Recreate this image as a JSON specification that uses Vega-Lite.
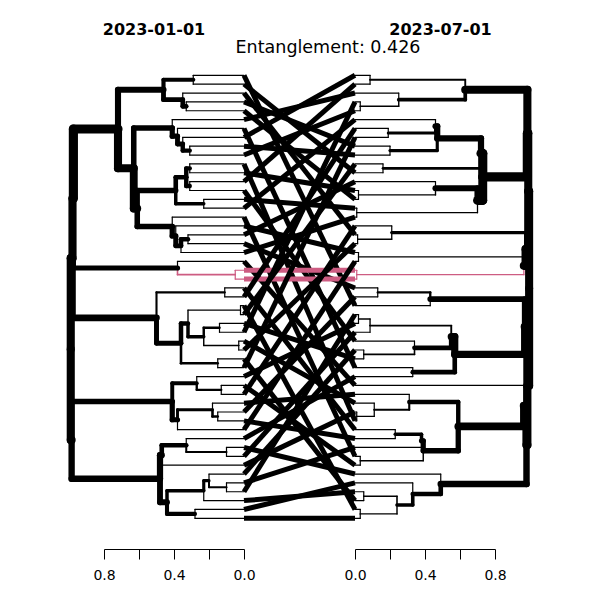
{
  "$schema": "https://vega.github.io/schema/vega-lite/v6.json",
  "background": "white",
  "padding": {"left": 66, "top": 22, "right": 5, "bottom": 5},
  "config": {"view": {"stroke": null}, "font": "DejaVu Sans"},
  "spacing": 0,
  "bounds": "flush",
  "resolve": {"scale": {"x": "independent", "y": "independent", "strokeWidth": "independent", "color": "independent"}},
  "datasets": {
    "left": [
      {"ph":0.29,"py":1.5,"ch":0,"cy":1,"g":"n"},{"ph":0.29,"py":1.5,"ch":0,"cy":2,"g":"n"},
      {"ph":0.33,"py":4.5,"ch":0,"cy":4,"g":"n"},{"ph":0.33,"py":4.5,"ch":0,"cy":5,"g":"n"},
      {"ph":0.35,"py":3.75,"ch":0,"cy":3,"g":"n"},{"ph":0.35,"py":3.75,"ch":0.33,"cy":4.5,"g":"n"},
      {"ph":0.46,"py":2.625,"ch":0.29,"cy":1.5,"g":"n"},{"ph":0.46,"py":2.625,"ch":0.35,"cy":3.75,"g":"n"},
      {"ph":0.31,"py":9.5,"ch":0,"cy":9,"g":"n"},{"ph":0.31,"py":9.5,"ch":0,"cy":10,"g":"n"},
      {"ph":0.35,"py":8.75,"ch":0,"cy":8,"g":"n"},{"ph":0.35,"py":8.75,"ch":0.31,"cy":9.5,"g":"n"},
      {"ph":0.38,"py":7.875,"ch":0,"cy":7,"g":"n"},{"ph":0.38,"py":7.875,"ch":0.35,"cy":8.75,"g":"n"},
      {"ph":0.41,"py":6.9375,"ch":0,"cy":6,"g":"n"},{"ph":0.41,"py":6.9375,"ch":0.38,"cy":7.875,"g":"n"},
      {"ph":0.31,"py":11.5,"ch":0,"cy":11,"g":"n"},{"ph":0.31,"py":11.5,"ch":0,"cy":12,"g":"n"},
      {"ph":0.31,"py":13.5,"ch":0,"cy":13,"g":"n"},{"ph":0.31,"py":13.5,"ch":0,"cy":14,"g":"n"},
      {"ph":0.33,"py":12.5,"ch":0.31,"cy":11.5,"g":"n"},{"ph":0.33,"py":12.5,"ch":0.31,"cy":13.5,"g":"n"},
      {"ph":0.23,"py":15.5,"ch":0,"cy":15,"g":"n"},{"ph":0.23,"py":15.5,"ch":0,"cy":16,"g":"n"},
      {"ph":0.39,"py":14,"ch":0.33,"cy":12.5,"g":"n"},{"ph":0.39,"py":14,"ch":0.23,"cy":15.5,"g":"n"},
      {"ph":0.32,"py":19.5,"ch":0,"cy":19,"g":"n"},{"ph":0.32,"py":19.5,"ch":0,"cy":20,"g":"n"},
      {"ph":0.36,"py":20.25,"ch":0.32,"cy":19.5,"g":"n"},{"ph":0.36,"py":20.25,"ch":0,"cy":21,"g":"n"},
      {"ph":0.39,"py":19.125,"ch":0,"cy":18,"g":"n"},{"ph":0.39,"py":19.125,"ch":0.36,"cy":20.25,"g":"n"},
      {"ph":0.41,"py":18.0625,"ch":0,"cy":17,"g":"n"},{"ph":0.41,"py":18.0625,"ch":0.39,"cy":19.125,"g":"n"},
      {"ph":0.61,"py":16.03125,"ch":0.39,"cy":14,"g":"n"},{"ph":0.61,"py":16.03125,"ch":0.41,"cy":18.0625,"g":"n"},
      {"ph":0.63,"py":11.484375,"ch":0.41,"cy":6.9375,"g":"n"},{"ph":0.63,"py":11.484375,"ch":0.61,"cy":16.03125,"g":"n"},
      {"ph":0.72,"py":7.0546875,"ch":0.46,"cy":2.625,"g":"n"},{"ph":0.72,"py":7.0546875,"ch":0.63,"cy":11.484375,"g":"n"},
      {"ph":0.05,"py":23.5,"ch":0,"cy":23,"g":"c"},{"ph":0.05,"py":23.5,"ch":0,"cy":24,"g":"c"},
      {"ph":0.38,"py":22.75,"ch":0,"cy":22,"g":"n"},{"ph":0.38,"py":22.75,"ch":0.05,"cy":23.5,"g":"c"},
      {"ph":0.11,"py":25.5,"ch":0,"cy":25,"g":"n"},{"ph":0.11,"py":25.5,"ch":0,"cy":26,"g":"n"},
      {"ph":0.02,"py":27.5,"ch":0,"cy":27,"g":"n"},{"ph":0.02,"py":27.5,"ch":0,"cy":28,"g":"n"},
      {"ph":0.14,"py":29.5,"ch":0,"cy":29,"g":"n"},{"ph":0.14,"py":29.5,"ch":0,"cy":30,"g":"n"},
      {"ph":0.03,"py":31.5,"ch":0,"cy":31,"g":"n"},{"ph":0.03,"py":31.5,"ch":0,"cy":32,"g":"n"},
      {"ph":0.23,"py":30.5,"ch":0.14,"cy":29.5,"g":"n"},{"ph":0.23,"py":30.5,"ch":0.03,"cy":31.5,"g":"n"},
      {"ph":0.32,"py":29,"ch":0.02,"cy":27.5,"g":"n"},{"ph":0.32,"py":29,"ch":0.23,"cy":30.5,"g":"n"},
      {"ph":0.15,"py":33.5,"ch":0,"cy":33,"g":"n"},{"ph":0.15,"py":33.5,"ch":0,"cy":34,"g":"n"},
      {"ph":0.36,"py":31.25,"ch":0.32,"cy":29,"g":"n"},{"ph":0.36,"py":31.25,"ch":0.15,"cy":33.5,"g":"n"},
      {"ph":0.5,"py":28.375,"ch":0.11,"cy":25.5,"g":"n"},{"ph":0.5,"py":28.375,"ch":0.36,"cy":31.25,"g":"n"},
      {"ph":0.13,"py":36.5,"ch":0,"cy":36,"g":"n"},{"ph":0.13,"py":36.5,"ch":0,"cy":37,"g":"n"},
      {"ph":0.27,"py":35.75,"ch":0,"cy":35,"g":"n"},{"ph":0.27,"py":35.75,"ch":0.13,"cy":36.5,"g":"n"},
      {"ph":0.15,"py":39.5,"ch":0,"cy":39,"g":"n"},{"ph":0.15,"py":39.5,"ch":0,"cy":40,"g":"n"},
      {"ph":0.18,"py":38.75,"ch":0,"cy":38,"g":"n"},{"ph":0.18,"py":38.75,"ch":0.15,"cy":39.5,"g":"n"},
      {"ph":0.38,"py":39.875,"ch":0.18,"cy":38.75,"g":"n"},{"ph":0.38,"py":39.875,"ch":0,"cy":41,"g":"n"},
      {"ph":0.41,"py":37.8125,"ch":0.27,"cy":35.75,"g":"n"},{"ph":0.41,"py":37.8125,"ch":0.38,"cy":39.875,"g":"n"},
      {"ph":0.1,"py":43.5,"ch":0,"cy":43,"g":"n"},{"ph":0.1,"py":43.5,"ch":0,"cy":44,"g":"n"},
      {"ph":0.33,"py":42.75,"ch":0,"cy":42,"g":"n"},{"ph":0.33,"py":42.75,"ch":0.1,"cy":43.5,"g":"n"},
      {"ph":0.47,"py":43.875,"ch":0.33,"cy":42.75,"g":"n"},{"ph":0.47,"py":43.875,"ch":0,"cy":45,"g":"n"},
      {"ph":0.1,"py":47.5,"ch":0,"cy":47,"g":"n"},{"ph":0.1,"py":47.5,"ch":0,"cy":48,"g":"n"},
      {"ph":0.2,"py":46.75,"ch":0,"cy":46,"g":"n"},{"ph":0.2,"py":46.75,"ch":0.1,"cy":47.5,"g":"n"},
      {"ph":0.23,"py":47.875,"ch":0.2,"cy":46.75,"g":"n"},{"ph":0.23,"py":47.875,"ch":0,"cy":49,"g":"n"},
      {"ph":0.28,"py":50.5,"ch":0,"cy":50,"g":"n"},{"ph":0.28,"py":50.5,"ch":0,"cy":51,"g":"n"},
      {"ph":0.44,"py":49.1875,"ch":0.23,"cy":47.875,"g":"n"},{"ph":0.44,"py":49.1875,"ch":0.28,"cy":50.5,"g":"n"},
      {"ph":0.48,"py":46.53125,"ch":0.47,"cy":43.875,"g":"n"},{"ph":0.48,"py":46.53125,"ch":0.44,"cy":49.1875,"g":"n"},
      {"ph":0.975,"py":14.90234,"ch":0.72,"cy":7.0546875,"g":"n"},{"ph":0.975,"py":14.90234,"ch":0.38,"cy":22.75,"g":"n"},
      {"ph":0.98,"py":21.63867,"ch":0.975,"cy":14.90234,"g":"n"},{"ph":0.98,"py":21.63867,"ch":0.5,"cy":28.375,"g":"n"},
      {"ph":0.985,"py":42.17188,"ch":0.41,"cy":37.8125,"g":"n"},{"ph":0.985,"py":42.17188,"ch":0.48,"cy":46.53125,"g":"n"},
      {"ph":0.99,"py":31.90527,"ch":0.98,"cy":21.63867,"g":"n"},{"ph":0.99,"py":31.90527,"ch":0.985,"cy":42.17188,"g":"n"}
    ],
    "right": [
      {"ph":0.086,"py":1.5,"ch":0,"cy":1,"g":"n"},{"ph":0.086,"py":1.5,"ch":0,"cy":2,"g":"n"},
      {"ph":0.03,"py":4.5,"ch":0,"cy":4,"g":"n"},{"ph":0.03,"py":4.5,"ch":0,"cy":5,"g":"n"},
      {"ph":0.25,"py":3.75,"ch":0,"cy":3,"g":"n"},{"ph":0.25,"py":3.75,"ch":0.03,"cy":4.5,"g":"n"},
      {"ph":0.63,"py":2.625,"ch":0.086,"cy":1.5,"g":"n"},{"ph":0.63,"py":2.625,"ch":0.25,"cy":3.75,"g":"n"},
      {"ph":0.19,"py":7.5,"ch":0,"cy":7,"g":"n"},{"ph":0.19,"py":7.5,"ch":0,"cy":8,"g":"n"},
      {"ph":0.46,"py":6.75,"ch":0,"cy":6,"g":"n"},{"ph":0.46,"py":6.75,"ch":0.19,"cy":7.5,"g":"n"},
      {"ph":0.2,"py":9.5,"ch":0,"cy":9,"g":"n"},{"ph":0.2,"py":9.5,"ch":0,"cy":10,"g":"n"},
      {"ph":0.47,"py":8.125,"ch":0.46,"cy":6.75,"g":"n"},{"ph":0.47,"py":8.125,"ch":0.2,"cy":9.5,"g":"n"},
      {"ph":0.16,"py":11.5,"ch":0,"cy":11,"g":"n"},{"ph":0.16,"py":11.5,"ch":0,"cy":12,"g":"n"},
      {"ph":0.72,"py":9.8125,"ch":0.47,"cy":8.125,"g":"n"},{"ph":0.72,"py":9.8125,"ch":0.16,"cy":11.5,"g":"n"},
      {"ph":0.02,"py":14.5,"ch":0,"cy":14,"g":"n"},{"ph":0.02,"py":14.5,"ch":0,"cy":15,"g":"n"},
      {"ph":0.46,"py":13.75,"ch":0,"cy":13,"g":"n"},{"ph":0.46,"py":13.75,"ch":0.02,"cy":14.5,"g":"n"},
      {"ph":0.01,"py":16.5,"ch":0,"cy":16,"g":"n"},{"ph":0.01,"py":16.5,"ch":0,"cy":17,"g":"n"},
      {"ph":0.7,"py":15.125,"ch":0.46,"cy":13.75,"g":"n"},{"ph":0.7,"py":15.125,"ch":0.01,"cy":16.5,"g":"n"},
      {"ph":0.73,"py":12.46875,"ch":0.72,"cy":9.8125,"g":"n"},{"ph":0.73,"py":12.46875,"ch":0.7,"cy":15.125,"g":"n"},
      {"ph":0.015,"py":19.5,"ch":0,"cy":19,"g":"n"},{"ph":0.015,"py":19.5,"ch":0,"cy":20,"g":"n"},
      {"ph":0.21,"py":18.75,"ch":0,"cy":18,"g":"n"},{"ph":0.21,"py":18.75,"ch":0.015,"cy":19.5,"g":"n"},
      {"ph":0.02,"py":21.5,"ch":0,"cy":21,"g":"n"},{"ph":0.02,"py":21.5,"ch":0,"cy":22,"g":"n"},
      {"ph":0.01,"py":23.5,"ch":0,"cy":23,"g":"c"},{"ph":0.01,"py":23.5,"ch":0,"cy":24,"g":"c"},
      {"ph":0.13,"py":25.5,"ch":0,"cy":25,"g":"n"},{"ph":0.13,"py":25.5,"ch":0,"cy":26,"g":"n"},
      {"ph":0.43,"py":26.25,"ch":0.13,"cy":25.5,"g":"n"},{"ph":0.43,"py":26.25,"ch":0,"cy":27,"g":"n"},
      {"ph":0.02,"py":28.5,"ch":0,"cy":28,"g":"n"},{"ph":0.02,"py":28.5,"ch":0,"cy":29,"g":"n"},
      {"ph":0.086,"py":29.25,"ch":0.02,"cy":28.5,"g":"n"},{"ph":0.086,"py":29.25,"ch":0,"cy":30,"g":"n"},
      {"ph":0.05,"py":32.5,"ch":0,"cy":32,"g":"n"},{"ph":0.05,"py":32.5,"ch":0,"cy":33,"g":"n"},
      {"ph":0.34,"py":31.75,"ch":0,"cy":31,"g":"n"},{"ph":0.34,"py":31.75,"ch":0.05,"cy":32.5,"g":"n"},
      {"ph":0.55,"py":30.5,"ch":0.086,"cy":29.25,"g":"n"},{"ph":0.55,"py":30.5,"ch":0.34,"cy":31.75,"g":"n"},
      {"ph":0.33,"py":34.5,"ch":0,"cy":34,"g":"n"},{"ph":0.33,"py":34.5,"ch":0,"cy":35,"g":"n"},
      {"ph":0.57,"py":32.5,"ch":0.55,"cy":30.5,"g":"n"},{"ph":0.57,"py":32.5,"ch":0.33,"cy":34.5,"g":"n"},
      {"ph":0.01,"py":39.5,"ch":0,"cy":39,"g":"n"},{"ph":0.01,"py":39.5,"ch":0,"cy":40,"g":"n"},
      {"ph":0.11,"py":38.75,"ch":0,"cy":38,"g":"n"},{"ph":0.11,"py":38.75,"ch":0.01,"cy":39.5,"g":"n"},
      {"ph":0.31,"py":37.875,"ch":0,"cy":37,"g":"n"},{"ph":0.31,"py":37.875,"ch":0.11,"cy":38.75,"g":"n"},
      {"ph":0.23,"py":41.5,"ch":0,"cy":41,"g":"n"},{"ph":0.23,"py":41.5,"ch":0,"cy":42,"g":"n"},
      {"ph":0.38,"py":42.25,"ch":0.23,"cy":41.5,"g":"n"},{"ph":0.38,"py":42.25,"ch":0,"cy":43,"g":"n"},
      {"ph":0.03,"py":44.5,"ch":0,"cy":44,"g":"n"},{"ph":0.03,"py":44.5,"ch":0,"cy":45,"g":"n"},
      {"ph":0.39,"py":43.375,"ch":0.38,"cy":42.25,"g":"n"},{"ph":0.39,"py":43.375,"ch":0.03,"cy":44.5,"g":"n"},
      {"ph":0.59,"py":40.625,"ch":0.31,"cy":37.875,"g":"n"},{"ph":0.59,"py":40.625,"ch":0.39,"cy":43.375,"g":"n"},
      {"ph":0.05,"py":48.5,"ch":0,"cy":48,"g":"n"},{"ph":0.05,"py":48.5,"ch":0,"cy":49,"g":"n"},
      {"ph":0.03,"py":50.5,"ch":0,"cy":50,"g":"n"},{"ph":0.03,"py":50.5,"ch":0,"cy":51,"g":"n"},
      {"ph":0.24,"py":49.5,"ch":0.05,"cy":48.5,"g":"n"},{"ph":0.24,"py":49.5,"ch":0.03,"cy":50.5,"g":"n"},
      {"ph":0.33,"py":48.25,"ch":0,"cy":47,"g":"n"},{"ph":0.33,"py":48.25,"ch":0.24,"cy":49.5,"g":"n"},
      {"ph":0.49,"py":47.125,"ch":0,"cy":46,"g":"n"},{"ph":0.49,"py":47.125,"ch":0.33,"cy":48.25,"g":"n"},
      {"ph":0.985,"py":7.546875,"ch":0.63,"cy":2.625,"g":"n"},{"ph":0.985,"py":7.546875,"ch":0.73,"cy":12.46875,"g":"n"},
      {"ph":0.965,"py":22.5,"ch":0.02,"cy":21.5,"g":"n"},{"ph":0.965,"py":22.5,"ch":0.01,"cy":23.5,"g":"c"},
      {"ph":0.975,"py":20.625,"ch":0.21,"cy":18.75,"g":"n"},{"ph":0.975,"py":20.625,"ch":0.965,"cy":22.5,"g":"n"},
      {"ph":0.99,"py":14.0859,"ch":0.985,"cy":7.546875,"g":"n"},{"ph":0.99,"py":14.0859,"ch":0.975,"cy":20.625,"g":"n"},
      {"ph":0.97,"py":29.375,"ch":0.43,"cy":26.25,"g":"n"},{"ph":0.97,"py":29.375,"ch":0.57,"cy":32.5,"g":"n"},
      {"ph":0.965,"py":38.3125,"ch":0,"cy":36,"g":"n"},{"ph":0.965,"py":38.3125,"ch":0.59,"cy":40.625,"g":"n"},
      {"ph":0.98,"py":42.71875,"ch":0.965,"cy":38.3125,"g":"n"},{"ph":0.98,"py":42.71875,"ch":0.49,"cy":47.125,"g":"n"},
      {"ph":0.985,"py":36.046875,"ch":0.97,"cy":29.375,"g":"n"},{"ph":0.985,"py":36.046875,"ch":0.98,"cy":42.71875,"g":"n"},
      {"ph":0.995,"py":25.0664,"ch":0.99,"cy":14.0859,"g":"n"},{"ph":0.995,"py":25.0664,"ch":0.985,"cy":36.046875,"g":"n"}
    ],
    "links": [
      {"l":1,"r":27,"g":"n"},{"l":2,"r":12,"g":"n"},{"l":3,"r":19,"g":"n"},{"l":4,"r":9,"g":"n"},
      {"l":5,"r":15,"g":"n"},{"l":6,"r":3,"g":"n"},{"l":7,"r":34,"g":"n"},{"l":8,"r":1,"g":"n"},
      {"l":9,"r":10,"g":"n"},{"l":10,"r":5,"g":"n"},{"l":11,"r":40,"g":"n"},{"l":12,"r":14,"g":"n"},
      {"l":13,"r":2,"g":"n"},{"l":14,"r":31,"g":"n"},{"l":15,"r":16,"g":"n"},{"l":16,"r":6,"g":"n"},
      {"l":17,"r":44,"g":"n"},{"l":18,"r":21,"g":"n"},{"l":19,"r":13,"g":"n"},{"l":20,"r":25,"g":"n"},
      {"l":21,"r":17,"g":"n"},{"l":22,"r":36,"g":"n"},{"l":23,"r":23,"g":"c"},{"l":24,"r":24,"g":"c"},
      {"l":25,"r":41,"g":"n"},{"l":26,"r":7,"g":"n"},{"l":27,"r":50,"g":"n"},{"l":28,"r":11,"g":"n"},
      {"l":29,"r":33,"g":"n"},{"l":30,"r":4,"g":"n"},{"l":31,"r":38,"g":"n"},{"l":32,"r":20,"g":"n"},
      {"l":33,"r":49,"g":"n"},{"l":34,"r":8,"g":"n"},{"l":35,"r":29,"g":"n"},{"l":36,"r":45,"g":"n"},
      {"l":37,"r":18,"g":"n"},{"l":38,"r":37,"g":"n"},{"l":39,"r":26,"g":"n"},{"l":40,"r":42,"g":"n"},
      {"l":41,"r":22,"g":"n"},{"l":42,"r":35,"g":"n"},{"l":43,"r":46,"g":"n"},{"l":44,"r":30,"g":"n"},
      {"l":45,"r":39,"g":"n"},{"l":46,"r":32,"g":"n"},{"l":47,"r":43,"g":"n"},{"l":48,"r":28,"g":"n"},
      {"l":49,"r":48,"g":"n"},{"l":50,"r":47,"g":"n"},{"l":51,"r":51,"g":"n"}
    ]
  },
  "hconcat": [
    {
      "width": 140, "height": 480,
      "title": {"text": "2023-01-01", "font": "DejaVu Sans", "fontSize": 16, "fontWeight": "bold", "color": "#000000", "anchor": "middle", "frame": "group", "baseline": "alphabetic", "offset": 6.8, "dx": -20},
      "data": {"name": "left"},
      "encoding": {
        "x": {"field": "ph", "type": "quantitative",
              "scale": {"domain": [0.8, 0], "nice": false, "zero": false},
              "axis": {"values": [0, 0.2, 0.4, 0.6, 0.8], "labelExpr": "datum.value == 0.2 || datum.value == 0.6 ? '' : format(datum.value, '.1f')", "title": null, "grid": false, "offset": 11, "domainColor": "#000000", "domainWidth": 1, "tickColor": "#000000", "tickSize": 10, "tickWidth": 1, "labelFont": "DejaVu Sans", "labelFontSize": 14, "labelColor": "#000000", "labelPadding": 9, "labelFlush": false, "labelOverlap": false}},
        "strokeWidth": {"field": "ch", "type": "quantitative", "scale": {"type": "linear", "domain": [0, 0.1, 0.45, 0.75, 1], "range": [1.2, 2, 6, 9.5, 8]}, "legend": null},
        "color": {"field": "g", "type": "nominal", "scale": {"domain": ["n", "c"], "range": ["#000000", "#CD5C82"]}, "legend": null}
      },
      "layer": [
        {"mark": {"type": "rule", "strokeCap": "round"},
         "encoding": {"y": {"field": "py", "type": "quantitative", "scale": {"domain": [53.22, -0.953], "nice": false, "zero": false}, "axis": null}, "y2": {"field": "cy"}}},
        {"mark": {"type": "rule", "strokeCap": "round"},
         "encoding": {"x2": {"field": "ch"}, "y": {"field": "cy", "type": "quantitative", "scale": {"domain": [53.22, -0.953], "nice": false, "zero": false}, "axis": null}}}
      ]
    },
    {
      "width": 111, "height": 480,
      "title": {"text": "Entanglement: 0.426", "font": "DejaVu Sans", "fontSize": 17.5, "fontWeight": "normal", "color": "#000000", "anchor": "middle", "frame": "group", "baseline": "alphabetic", "offset": -12.5, "dx": 28.5},
      "data": {"name": "links"},
      "mark": {"type": "rule", "strokeCap": "butt", "strokeWidth": 5},
      "encoding": {
        "x": {"datum": 0, "type": "quantitative", "scale": {"domain": [0, 1], "nice": false, "zero": false}, "axis": null},
        "x2": {"datum": 1},
        "y": {"field": "l", "type": "quantitative", "scale": {"domain": [53.22, -0.953], "nice": false, "zero": false}, "axis": null},
        "y2": {"field": "r"},
        "color": {"field": "g", "type": "nominal", "scale": {"domain": ["n", "c"], "range": ["#000000", "#CD5C82"]}, "legend": null}
      }
    },
    {
      "width": 140, "height": 480,
      "title": {"text": "2023-07-01", "font": "DejaVu Sans", "fontSize": 16, "fontWeight": "bold", "color": "#000000", "anchor": "middle", "frame": "group", "baseline": "alphabetic", "offset": 6.8, "dx": 15.5},
      "data": {"name": "right"},
      "encoding": {
        "x": {"field": "ph", "type": "quantitative",
              "scale": {"domain": [0, 0.8], "nice": false, "zero": false},
              "axis": {"values": [0, 0.2, 0.4, 0.6, 0.8], "labelExpr": "datum.value == 0.2 || datum.value == 0.6 ? '' : format(datum.value, '.1f')", "title": null, "grid": false, "offset": 11, "domainColor": "#000000", "domainWidth": 1, "tickColor": "#000000", "tickSize": 10, "tickWidth": 1, "labelFont": "DejaVu Sans", "labelFontSize": 14, "labelColor": "#000000", "labelPadding": 9, "labelFlush": false, "labelOverlap": false}},
        "strokeWidth": {"field": "ch", "type": "quantitative", "scale": {"type": "linear", "domain": [0, 0.1, 0.45, 0.75, 1], "range": [1.2, 2, 6, 9.5, 8]}, "legend": null},
        "color": {"field": "g", "type": "nominal", "scale": {"domain": ["n", "c"], "range": ["#000000", "#CD5C82"]}, "legend": null}
      },
      "layer": [
        {"mark": {"type": "rule", "strokeCap": "round"},
         "encoding": {"y": {"field": "py", "type": "quantitative", "scale": {"domain": [53.22, -0.953], "nice": false, "zero": false}, "axis": null}, "y2": {"field": "cy"}}},
        {"mark": {"type": "rule", "strokeCap": "round"},
         "encoding": {"x2": {"field": "ch"}, "y": {"field": "cy", "type": "quantitative", "scale": {"domain": [53.22, -0.953], "nice": false, "zero": false}, "axis": null}}}
      ]
    }
  ]
}
